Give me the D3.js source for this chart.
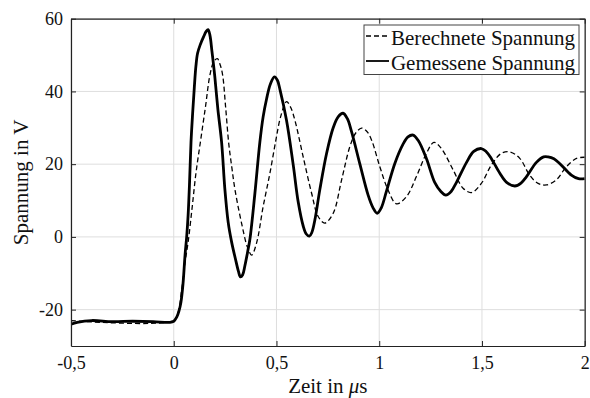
<!DOCTYPE html>
<html>
<head>
<meta charset="utf-8">
<script src="https://cdn.jsdelivr.net/npm/d3@7"></script>
<style>
  html, body { margin: 0; padding: 0; background: #fff; }
  svg { display: block; font-family: "Liberation Serif", "Times New Roman", serif; }
</style>
</head>
<body>
<svg id="chart" width="590" height="398"></svg>
<script>
// ---- data (time in µs, voltage in V) ----
const measuredT = [-0.5,-0.47,-0.4,-0.3,-0.2,-0.1,-0.02,0.0,0.015,0.025,0.035,0.045,0.055,0.063,0.07,0.077,0.084,0.092,0.1,0.108,0.116,0.13,0.145,0.158,0.167,0.176,0.186,0.2,0.215,0.233,0.249,0.265,0.282,0.3,0.315,0.325,0.335,0.346,0.36,0.371,0.395,0.419,0.435,0.452,0.47,0.49,0.505,0.517,0.549,0.581,0.606,0.63,0.645,0.66,0.672,0.687,0.711,0.744,0.776,0.8,0.824,0.845,0.865,0.906,0.946,0.97,0.99,1.01,1.035,1.076,1.116,1.14,1.165,1.19,1.23,1.27,1.3,1.324,1.35,1.376,1.425,1.46,1.497,1.52,1.546,1.587,1.62,1.66,1.69,1.716,1.765,1.8,1.822,1.85,1.878,1.935,1.97,2.0];
const measuredV = [-24,-23.5,-23,-23.3,-23.2,-23.3,-23.5,-23.2,-22,-20.5,-18,-13,-5,0,6,15,26,34,41,47,50.5,53,55,56.5,57,55.5,51,44,35,26,13,4,-1.5,-6,-9.5,-11,-10.5,-8,-4,-0.5,12,26,33,38,42,44,43,40.5,32,20,9.5,3,0.8,0.2,1.2,4.7,13,23,30,33,34,32.5,29,20,11.5,8,6.5,8,12.5,20.2,25.5,27.5,28,26.5,21.5,15,12.5,11.5,12.5,15,20.5,23.5,24.3,23.5,21.5,17.5,15,14,14.8,16.5,20.5,22,22,21.5,20.2,17,16,16];

const computedT = [-0.5,0.0,0.02,0.04,0.055,0.071,0.09,0.108,0.131,0.155,0.176,0.195,0.212,0.225,0.238,0.252,0.268,0.283,0.298,0.33,0.358,0.379,0.403,0.435,0.468,0.497,0.52,0.549,0.57,0.59,0.63,0.671,0.703,0.735,0.776,0.817,0.857,0.885,0.914,0.94,0.963,1.003,1.043,1.084,1.133,1.181,1.23,1.266,1.3,1.36,1.408,1.449,1.497,1.546,1.595,1.635,1.684,1.732,1.773,1.814,1.862,1.911,1.96,2.0];
const computedV = [-23,-23,-21,-14,-7,-1,8.3,17.5,26.6,36,44.5,48.2,49,47.5,44.5,36,25.5,19,13,3.8,-2.7,-5,-1.7,8.3,17.5,26.6,33,37.2,35.5,32,22,12,5.6,3.8,6.5,15.7,24.8,28.5,29.9,29,26.6,19.3,12.9,9.1,11.1,16.6,23,26,24.5,18.4,13.4,12.2,14.7,19.8,23,23.4,21.6,17,14.7,14.3,15.7,19.3,21.6,21.9];

const xTicks = [-0.5, 0, 0.5, 1, 1.5, 2];
const xTickLabels = ["-0,5", "0", "0,5", "1", "1,5", "2"];
const yTicks = [-20, 0, 20, 40, 60];
const yTickLabels = ["-20", "0", "20", "40", "60"];
const seriesNames = ["Berechnete Spannung", "Gemessene Spannung"];

// ---- layout ----
const W = 590, H = 398;
const m = { left: 71, right: 5.3, top: 18.7, bottom: 52 };
const svg = d3.select("#chart");
const x = d3.scaleLinear().domain([-0.5, 2]).range([m.left, W - m.right]);
const y = d3.scaleLinear().domain([-30, 60]).range([H - m.bottom, m.top]);
const x0 = x.range()[0], x1 = x.range()[1], y0 = y.range()[0], y1 = y.range()[1];

// grid
const g = svg.append("g");
g.selectAll("line.gx").data(xTicks).join("line")
  .attr("x1", d => x(d)).attr("x2", d => x(d)).attr("y1", y0).attr("y2", y1)
  .attr("stroke", "#dedede").attr("stroke-width", 1);
g.selectAll("line.gy").data(yTicks).join("line")
  .attr("y1", d => y(d)).attr("y2", d => y(d)).attr("x1", x0).attr("x2", x1)
  .attr("stroke", "#dedede").attr("stroke-width", 1);

// clip
svg.append("clipPath").attr("id", "clip").append("rect")
  .attr("x", x0).attr("y", y1).attr("width", x1 - x0).attr("height", y0 - y1);

const line = d3.line().x(d => x(d[0])).y(d => y(d[1])).curve(d3.curveCatmullRom.alpha(0.5));
const computed = computedT.map((t, i) => [t, computedV[i]]);
const measured = measuredT.map((t, i) => [t, measuredV[i]]);

const plot = svg.append("g").attr("clip-path", "url(#clip)");
plot.append("path").datum(measured).attr("d", line)
  .attr("fill", "none").attr("stroke", "#000").attr("stroke-width", 2.8).attr("stroke-linejoin", "round");
plot.append("path").datum(computed).attr("d", line)
  .attr("fill", "none").attr("stroke", "#000").attr("stroke-width", 1.3).attr("stroke-dasharray", "5,3");

// axes (inward ticks, box)
const fmtX = d => xTickLabels[xTicks.indexOf(d)];
const fmtY = d => yTickLabels[yTicks.indexOf(d)];
const axB = svg.append("g").attr("transform", `translate(0,${y0})`)
  .call(d3.axisBottom(x).tickValues(xTicks).tickFormat(fmtX).tickSizeInner(-5).tickSizeOuter(0).tickPadding(10));
const axT = svg.append("g").attr("transform", `translate(0,${y1})`)
  .call(d3.axisTop(x).tickValues(xTicks).tickFormat("").tickSizeInner(-5).tickSizeOuter(0));
const axL = svg.append("g").attr("transform", `translate(${x0},0)`)
  .call(d3.axisLeft(y).tickValues(yTicks).tickFormat(fmtY).tickSizeInner(-5).tickSizeOuter(0).tickPadding(8));
const axR = svg.append("g").attr("transform", `translate(${x1},0)`)
  .call(d3.axisRight(y).tickValues(yTicks).tickFormat("").tickSizeInner(-5).tickSizeOuter(0));
[axB, axT, axL, axR].forEach(a => {
  a.select(".domain").attr("stroke", "#222").attr("stroke-width", 1.2);
  a.selectAll(".tick line").attr("stroke", "#222").attr("stroke-width", 1);
  a.selectAll("text").attr("font-family", "Liberation Serif, serif").attr("font-size", 18).attr("fill", "#111");
});

// axis titles
const xt = svg.append("text").attr("x", (x0 + x1) / 2).attr("y", 393)
  .attr("text-anchor", "middle").attr("font-size", 21).attr("fill", "#111");
xt.append("tspan").text("Zeit in ");
xt.append("tspan").attr("font-style", "italic").text("\u03bc");
xt.append("tspan").text("s");
svg.append("text").attr("transform", `translate(28,${(y0 + y1) / 2}) rotate(-90)`)
  .attr("text-anchor", "middle").attr("font-size", 21).attr("fill", "#111").text("Spannung in V");

// legend
const lg = svg.append("g");
lg.append("rect").attr("x", 364).attr("y", 25).attr("width", 215).attr("height", 49.5)
  .attr("fill", "#fff").attr("stroke", "#444").attr("stroke-width", 1);
const items = [{ name: seriesNames[0], dash: "5,3", w: 1.3 }, { name: seriesNames[1], dash: null, w: 1.8 }];
items.forEach((it, i) => {
  const cy = 36 + i * 25;
  lg.append("line").attr("x1", 366).attr("x2", 389).attr("y1", cy).attr("y2", cy)
    .attr("stroke", "#000").attr("stroke-width", it.w).attr("stroke-dasharray", it.dash);
  lg.append("text").attr("x", 391).attr("y", cy + 9).attr("font-size", 21).attr("fill", "#111")
    .attr("textLength", 184).attr("lengthAdjust", "spacing").text(it.name);
});
</script>
</body>
</html>
